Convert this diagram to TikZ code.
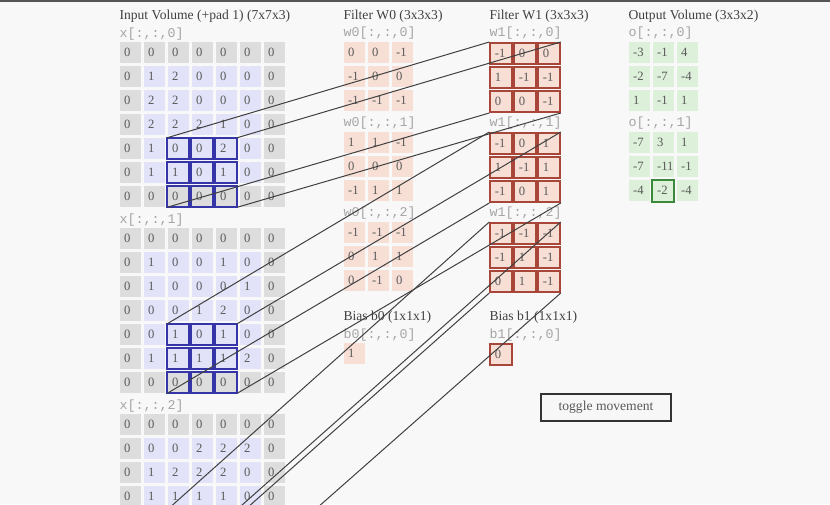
\documentclass[tikz,border=0pt]{standalone}
\usepackage{fontspec}
\setmainfont{Liberation Serif}
\setmonofont{Liberation Mono}
\usetikzlibrary{positioning}
\definecolor{cBg}{HTML}{F8F8F8}
\definecolor{cTop}{HTML}{555555}
\definecolor{cPad}{HTML}{DDDDDD}
\definecolor{cIn}{HTML}{E2E2F8}
\definecolor{cW}{HTML}{F7DFD5}
\definecolor{cWEdge}{HTML}{A8463A}
\definecolor{cOut}{HTML}{DDF1DA}
\definecolor{cOutEdge}{HTML}{3B8A3B}
\definecolor{cWin}{HTML}{3535A8}
\definecolor{cTxt}{HTML}{5A5A5A}
\definecolor{cLbl}{HTML}{A5A5A5}
\definecolor{cLine}{HTML}{404040}

\tikzset{
  cell/.style={anchor=north west, minimum width=16.1pt, minimum height=15.75pt,
    inner xsep=3.4pt, inner ysep=0pt, text width=9.3pt, align=left,
    font=\fontsize{9.5}{10}\selectfont, text=cTxt},
  wcell/.style={cell, fill=cW, draw=cWEdge, line width=1.5pt},
  ocell/.style={cell, fill=cOut},
  title/.style={anchor=west, inner sep=0pt, text=black!75, font=\fontsize{10.2}{12}\selectfont},
  lbl/.style={anchor=west, inner sep=0pt, text=cLbl, font=\ttfamily\fontsize{10}{12}\selectfont},
  win/.style={draw=cWin, line width=1.5pt},
  hl/.style={draw=cOutEdge, line width=1.5pt},
  link/.style={cLine, line width=0.75pt},
  btn/.style={draw=black!80, line width=1.5pt, fill=black!3, minimum width=97.5pt,
    minimum height=19.9pt, inner sep=0pt, text=black!65, font=\fontsize{10.2}{12}\selectfont}
}

\newcommand{\ingrid}[3]{%
  \foreach \row [count=\ri from 0] in {#3} {
    \foreach \v [count=\ci from 0] in \row {
      \pgfmathtruncatemacro\pad{or(or(\ri==0,\ri==6),or(\ci==0,\ci==6))}
      \ifnum\pad=1 \def\cf{cPad}\else\def\cf{cIn}\fi
      \node[cell, fill=\cf] (x#1-\ri-\ci) at ({119.3+24*\ci},{#2+24*\ri}) {\mbox{\v}};
    }
  }%
}
\newcommand{\fgrid}[5]{%
  \foreach \row [count=\ri from 0] in {#5} {
    \foreach \v [count=\ci from 0] in \row {
      \node[#4] (#1-\ri-\ci) at ({#2+24*\ci},{#3+24*\ri}) {\mbox{\v}};
    }
  }%
}

\begin{document}
\begin{tikzpicture}[x=0.75pt, y=-0.75pt]
\useasboundingbox (0,0) rectangle (830,504);
\clip (0,0) rectangle (830,504);
\fill[cBg] (0,0) rectangle (830,504);
\fill[cTop] (0,0) rectangle (830,2);

\node[title] (tin) at (119.3,16) {Input Volume (+pad 1) (7x7x3)};
\node[title] (tw0) at (343.3,16) {Filter W0 (3x3x3)};
\node[title] (tw1) at (489.3,16) {Filter W1 (3x3x3)};
\node[title] (tout) at (628.3,16) {Output Volume (3x3x2)};

\node[lbl] (lx0) at (119.3,34) {x[:,:,0]};
\node[lbl] (lx1) at (119.3,220) {x[:,:,1]};
\node[lbl] (lx2) at (119.3,406) {x[:,:,2]};
\ingrid{0}{41.7}{{0,0,0,0,0,0,0},{0,1,2,0,0,0,0},{0,2,2,0,0,0,0},{0,2,2,2,1,0,0},{0,1,0,0,2,0,0},{0,1,1,0,1,0,0},{0,0,0,0,0,0,0}}
\ingrid{1}{227.7}{{0,0,0,0,0,0,0},{0,1,0,0,1,0,0},{0,1,0,0,0,1,0},{0,0,0,1,2,0,0},{0,0,1,0,1,0,0},{0,1,1,1,1,2,0},{0,0,0,0,0,0,0}}
\ingrid{2}{413.7}{{0,0,0,0,0,0,0},{0,0,0,2,2,2,0},{0,1,2,2,2,0,0},{0,1,1,1,1,0,0}}
\foreach \k in {0,1}
  \foreach \ri in {4,5,6}
    \foreach \ci in {2,3,4}
      \draw[win] (x\k-\ri-\ci.north west) rectangle (x\k-\ri-\ci.south east);
\coordinate (x2nw) at (167.3,509.7);
\coordinate (x2ne) at (236.8,509.7);
\coordinate (x2sw) at (167.3,578.7);
\coordinate (x2se) at (236.8,578.7);

\node[lbl] (lw00) at (343.3,33) {w0[:,:,0]};
\node[lbl] (lw01) at (343.3,123) {w0[:,:,1]};
\node[lbl] (lw02) at (343.3,213) {w0[:,:,2]};
\fgrid{w0s0}{343.3}{42}{cell, fill=cW}{{0,0,-1},{-1,0,0},{-1,-1,-1}}
\fgrid{w0s1}{343.3}{132}{cell, fill=cW}{{1,1,-1},{0,0,0},{-1,1,1}}
\fgrid{w0s2}{343.3}{222}{cell, fill=cW}{{-1,-1,-1},{0,1,1},{0,-1,0}}

\node[lbl] (lw10) at (489.3,33) {w1[:,:,0]};
\node[lbl] (lw11) at (489.3,123) {w1[:,:,1]};
\node[lbl] (lw12) at (489.3,213) {w1[:,:,2]};
\fgrid{w1s0}{489.3}{42}{wcell}{{-1,0,0},{1,-1,-1},{0,0,-1}}
\fgrid{w1s1}{489.3}{132}{wcell}{{-1,0,1},{1,-1,1},{-1,0,1}}
\fgrid{w1s2}{489.3}{222}{wcell}{{-1,-1,-1},{-1,1,-1},{0,1,-1}}

\node[lbl] (lo0) at (628.3,33) {o[:,:,0]};
\node[lbl] (lo1) at (628.3,123) {o[:,:,1]};
\fgrid{o0}{628.3}{42}{ocell}{{-3,-1,4},{-2,-7,-4},{1,-1,1}}
\fgrid{o1}{628.3}{132}{ocell}{{-7,3,1},{-7,-11,-1},{-4,-2,-4}}
\draw[hl] (o1-2-1.north west) rectangle (o1-2-1.south east);

\node[title] (tb0) at (343.3,317) {Bias b0 (1x1x1)};
\node[lbl] (lb0) at (343.3,335) {b0[:,:,0]};
\node[cell, fill=cW] (b0) at (343.3,343) {1};
\node[title] (tb1) at (489.3,317) {Bias b1 (1x1x1)};
\node[lbl] (lb1) at (489.3,335) {b1[:,:,0]};
\node[wcell] (b1) at (489.3,343) {0};

\node[btn] (toggle) at (606,407.5) {toggle movement};

\foreach \k in {0,1} {
  \draw[link] (x\k-4-2.north west) -- (w1s\k-0-0.north west);
  \draw[link] (x\k-4-4.north east) -- (w1s\k-0-2.north east);
  \draw[link] (x\k-6-2.south west) -- (w1s\k-2-0.south west);
  \draw[link] (x\k-6-4.south east) -- (w1s\k-2-2.south east);
}
\draw[link] (x2nw) -- (w1s2-0-0.north west);
\draw[link] (x2ne) -- (w1s2-0-2.north east);
\draw[link] (x2sw) -- (w1s2-2-0.south west);
\draw[link] (x2se) -- (w1s2-2-2.south east);
\end{tikzpicture}
\end{document}
